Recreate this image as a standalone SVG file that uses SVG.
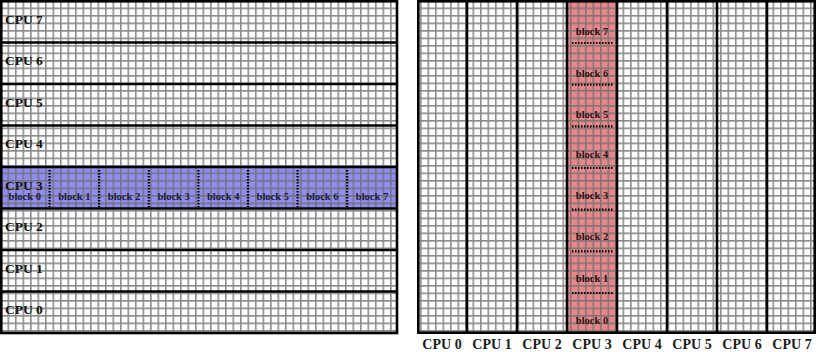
<svg xmlns="http://www.w3.org/2000/svg" width="817" height="352" viewBox="0 0 817 352">
<style>
.grid{fill:url(#grid)}
.thick{stroke:#000;stroke-width:2.6;fill:none}
.lbl{font-family:"Liberation Serif",serif;font-weight:bold;font-size:13.5px;fill:#111}
.blk{font-family:"Liberation Serif",serif;font-weight:bold;font-size:10.5px;fill:#1a1a3a;text-anchor:middle}
.blkr{font-family:"Liberation Serif",serif;font-weight:bold;font-size:10.5px;fill:#2a1010;text-anchor:middle}
.axis{font-family:"Liberation Serif",serif;font-weight:bold;font-size:14px;fill:#1a1a1a;text-anchor:middle}
.dotv{stroke:#000;stroke-width:2.2;stroke-dasharray:1.5 1.5;fill:none}
</style>
<defs>
<pattern id="grid" width="7.5" height="7.5" patternUnits="userSpaceOnUse">
<path d="M0 0.8H7.5M0.8 0V7.5" stroke="#6e6e6e" stroke-opacity="0.8" stroke-width="1.6" fill="none"/>
</pattern>
</defs>
<rect x="0" y="0" width="817" height="352" fill="#fff"/>

<g id="left-panel">
<rect x="1" y="1" width="396" height="332" class="grid"/>
<g id="row-cpu3-highlight">
<rect x="1" y="167" width="396" height="41.5" fill="#918df0"/>
<rect x="1" y="167" width="396" height="41.5" class="grid"/>
</g>
<path class="thick" d="M1 42.5H397M1 84H397M1 125.5H397M1 167H397M1 208.5H397M1 250H397M1 291.5H397"/>
<rect x="1.3" y="1.3" width="395.7" height="331.7" class="thick" stroke-width="3"/>
<g id="row-labels">
<text class="lbl" x="5" y="23.5">CPU 7</text>
<text class="lbl" x="5" y="65">CPU 6</text>
<text class="lbl" x="5" y="106.5">CPU 5</text>
<text class="lbl" x="5" y="148">CPU 4</text>
<text class="lbl" x="5" y="189.5">CPU 3</text>
<text class="lbl" x="5" y="231">CPU 2</text>
<text class="lbl" x="5" y="272.5">CPU 1</text>
<text class="lbl" x="5" y="314">CPU 0</text>
</g>
<g id="row-blocks">
<path class="dotv" d="M49.6 170V207M99.2 170V207M148.8 170V207M198.4 170V207M248 170V207M297.6 170V207M347.2 170V207"/>
<text class="blk" x="24.8" y="200">block 0</text>
<text class="blk" x="74.4" y="200">block 1</text>
<text class="blk" x="124" y="200">block 2</text>
<text class="blk" x="173.6" y="200">block 3</text>
<text class="blk" x="223.2" y="200">block 4</text>
<text class="blk" x="272.8" y="200">block 5</text>
<text class="blk" x="322.4" y="200">block 6</text>
<text class="blk" x="372" y="200">block 7</text>
</g>
</g>

<g id="right-panel">
<rect x="417" y="1" width="399" height="332" class="grid"/>
<g id="col-cpu3-highlight">
<rect x="567" y="1" width="50" height="332" fill="#e8878b"/>
<rect x="567" y="1" width="50" height="332" class="grid"/>
</g>
<path class="thick" d="M467 1V333M517 1V333M567 1V333M617 1V333M667 1V333M717 1V333M767 1V333"/>
<rect x="418.3" y="1.3" width="396.4" height="331.4" class="thick" stroke-width="3"/>
<g id="col-blocks">
<path class="dotv" d="M572 43H613M572 84.7H613M572 126.3H613M572 168H613M572 209.7H613M572 251.3H613M572 293H613"/>
<text class="blkr" x="592" y="35">block 7</text>
<text class="blkr" x="592" y="77">block 6</text>
<text class="blkr" x="592" y="118">block 5</text>
<text class="blkr" x="592" y="158">block 4</text>
<text class="blkr" x="592" y="199">block 3</text>
<text class="blkr" x="592" y="240">block 2</text>
<text class="blkr" x="592" y="282">block 1</text>
<text class="blkr" x="592" y="324">block 0</text>
</g>
<g id="col-labels">
<text class="axis" x="442" y="349">CPU 0</text>
<text class="axis" x="492" y="349">CPU 1</text>
<text class="axis" x="542" y="349">CPU 2</text>
<text class="axis" x="592" y="349">CPU 3</text>
<text class="axis" x="642" y="349">CPU 4</text>
<text class="axis" x="692" y="349">CPU 5</text>
<text class="axis" x="742" y="349">CPU 6</text>
<text class="axis" x="792" y="349">CPU 7</text>
</g>
</g>
<g id="connectors"/>
</svg>
